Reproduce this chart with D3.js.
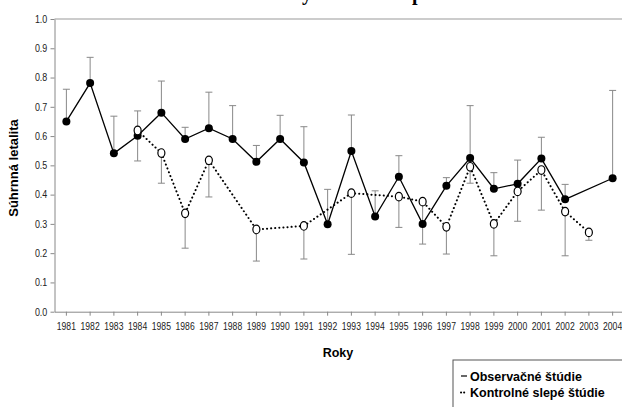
<!DOCTYPE html>
<html>
<head>
<meta charset="utf-8">
<script src="https://cdn.jsdelivr.net/npm/d3@7"></script>
<style>
	body { margin: 0; background: #fff; }
	svg { display: block; }
	.axis path, .axis line { stroke: #888; }
	.axis text { font-family: "Liberation Sans", Arial, sans-serif; font-size: 10.5px; fill: #222; }
</style>
</head>
<body>
<div id="chart"></div>
<script>
// categories
const years = ['1981','1982','1983','1984','1985','1986','1987','1988','1989','1990','1991','1992',
	'1993','1994','1995','1996','1997','1998','1999','2000','2001','2002','2003','2004'];
// observacne studie - value and top of error bar
const obsValues = [0.650,0.781,0.541,0.601,0.680,0.590,0.627,0.590,0.512,0.590,0.510,0.299,
	0.549,0.325,0.461,0.300,0.430,0.525,0.420,0.437,0.523,0.384,null,0.456];
const obsUpper = [0.760,0.869,0.668,0.686,0.788,0.630,0.750,0.704,0.568,0.671,0.632,0.418,
	0.672,0.413,0.533,null,0.458,0.704,0.475,0.518,0.596,0.435,null,0.756];
// kontrolne slepe studie - value and bottom of error bar
const blindValues = [null,null,null,0.619,0.542,0.336,0.517,null,0.281,null,0.293,null,
	0.405,null,0.393,0.376,0.290,0.495,0.300,0.411,0.484,0.342,0.271,null];
const blindLower = [null,null,null,0.515,0.439,0.217,0.392,null,0.173,null,0.180,null,
	0.196,null,0.288,0.231,0.197,0.439,0.191,0.309,0.347,0.191,0.244,null];
const yTicks = [0,0.1,0.2,0.3,0.4,0.5,0.6,0.7,0.8,0.9,1.0];

const width = 622, height = 407;
const plot = {left: 54.5, right: 624.5, top: 19, bottom: 311.7};

const svg = d3.select('#chart').append('svg').attr('width', width).attr('height', height);

const x = d3.scaleBand().domain(years).range([plot.left, plot.right]);
const cx = d => x(d) + x.bandwidth() / 2;
const y = d3.scaleLinear().domain([0, 1]).range([plot.bottom, plot.top]);

// cut off title, only descenders are visible
const title = svg.append('text')
	.attr('y', 0)
	.attr('font-family', '"Liberation Serif", "Times New Roman", serif')
	.attr('font-weight', 'bold')
	.attr('font-size', 20)
	.text('Súhrnná letalita za roky 1981–2004 podľa štúdií');
const yIdx = title.text().indexOf('y');
title.attr('x', 302 - title.node().getStartPositionOfChar(yIdx).x);

// top border of plot area
svg.append('line')
	.attr('x1', plot.left).attr('x2', width)
	.attr('y1', plot.top).attr('y2', plot.top)
	.attr('stroke', '#999');

// axes (labels squeezed like a narrow font)
svg.append('g')
	.attr('class', 'axis')
	.attr('transform', `translate(${plot.left},0)`)
	.call(d3.axisLeft(y).tickValues(yTicks).tickFormat(d3.format('.1f')).tickSize(4).tickSizeOuter(0))
	.call(g => g.selectAll('text').attr('x', -8.5).attr('transform', 'scale(0.85,1)'));

svg.append('g')
	.attr('class', 'axis')
	.attr('transform', `translate(0,${plot.bottom})`)
	.call(d3.axisBottom(x).tickSize(4).tickSizeOuter(0))
	.call(g => g.selectAll('text').attr('y', 11).attr('transform', 'scale(0.82,1)'));

// axis titles
svg.append('text')
	.attr('transform', `translate(18,168) rotate(-90)`)
	.attr('text-anchor', 'middle')
	.attr('font-family', '"Liberation Sans", Arial, sans-serif')
	.attr('font-weight', 'bold')
	.attr('font-size', 13)
	.text('Súhrnná letalita');

svg.append('text')
	.attr('x', 338).attr('y', 357)
	.attr('text-anchor', 'middle')
	.attr('font-family', '"Liberation Sans", Arial, sans-serif')
	.attr('font-weight', 'bold')
	.attr('font-size', 12.5)
	.text('Roky');

// error bars
const errs = [];
years.forEach((yr, i) => {
	if (obsValues[i] != null && obsUpper[i] != null) errs.push({yr: yr, a: obsValues[i], b: obsUpper[i]});
	if (blindValues[i] != null && blindLower[i] != null) errs.push({yr: yr, a: blindValues[i], b: blindLower[i]});
});
const eb = svg.append('g').attr('stroke', '#888').attr('stroke-width', 1)
	.selectAll('g').data(errs).enter().append('g');
eb.append('line')
	.attr('x1', d => cx(d.yr)).attr('x2', d => cx(d.yr))
	.attr('y1', d => y(d.a)).attr('y2', d => y(d.b));
eb.append('line')
	.attr('x1', d => cx(d.yr) - 3.5).attr('x2', d => cx(d.yr) + 3.5)
	.attr('y1', d => y(d.b)).attr('y2', d => y(d.b));

// series
const obs = years.map((yr, i) => ({yr: yr, v: obsValues[i]})).filter(d => d.v != null);
const blind = years.map((yr, i) => ({yr: yr, v: blindValues[i]})).filter(d => d.v != null);
const line = d3.line().x(d => cx(d.yr)).y(d => y(d.v));

svg.append('path')
	.attr('d', line(obs))
	.attr('fill', 'none')
	.attr('stroke', '#000')
	.attr('stroke-width', 1.3);

svg.append('g').selectAll('circle').data(obs).enter().append('circle')
	.attr('cx', d => cx(d.yr)).attr('cy', d => y(d.v))
	.attr('r', 4)
	.attr('fill', '#000');

svg.append('path')
	.attr('d', line(blind))
	.attr('fill', 'none')
	.attr('stroke', '#000')
	.attr('stroke-width', 2)
	.attr('stroke-linecap', 'round')
	.attr('stroke-dasharray', '0.1,4');

svg.append('g').selectAll('ellipse').data(blind).enter().append('ellipse')
	.attr('cx', d => cx(d.yr)).attr('cy', d => y(d.v))
	.attr('rx', 3.5).attr('ry', 4.3)
	.attr('fill', '#fff')
	.attr('stroke', '#000')
	.attr('stroke-width', 1.2);

// legend
const legend = svg.append('g').attr('transform', 'translate(453,360)');
legend.append('rect')
	.attr('x', 0).attr('y', 0)
	.attr('width', 200).attr('height', 80)
	.attr('fill', '#fff')
	.attr('stroke', '#555');
const items = [{name: 'Observačné štúdie', dash: null}, {name: 'Kontrolné slepé štúdie', dash: '0.1,3'}];
const li = legend.selectAll('.item').data(items).enter().append('g')
	.attr('transform', (d, i) => `translate(0,${16 + i * 16.5})`);
li.append('line')
	.attr('x1', 8).attr('x2', 14)
	.attr('stroke', '#000')
	.attr('stroke-width', d => d.dash ? 2 : 1.2)
	.attr('stroke-linecap', d => d.dash ? 'round' : 'butt')
	.attr('stroke-dasharray', d => d.dash);
li.append('text')
	.attr('x', 17).attr('y', 4.5)
	.attr('font-family', '"Liberation Sans", Arial, sans-serif')
	.attr('font-weight', 'bold')
	.attr('font-size', 12.5)
	.text(d => d.name);
</script>
</body>
</html>
